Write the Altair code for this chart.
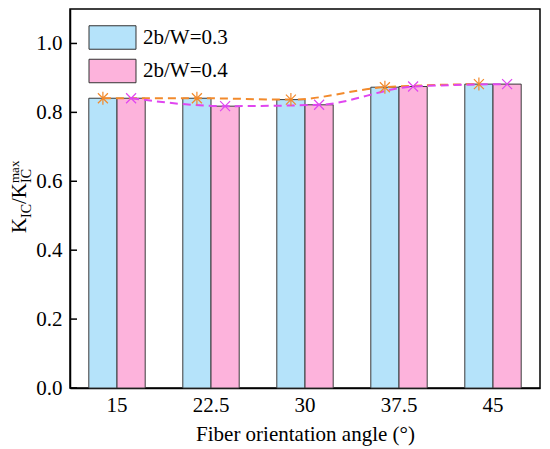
import altair as alt
import pandas as pd

angles = ["15", "22.5", "30", "37.5", "45"]
series = ["2b/W=0.3", "2b/W=0.4"]
w03 = [0.841, 0.841, 0.837, 0.873, 0.882]
w04 = [0.841, 0.818, 0.822, 0.875, 0.882]
y_ticks = [0.0, 0.2, 0.4, 0.6, 0.8, 1.0]

fill_colors = ["#B5E3FA", "#FDB3DC"]
line_colors = ["#F28A2C", "#E046F0"]
FONT = "'Liberation Serif', 'Times New Roman', serif"

rows = []
for a, v in zip(angles, w03):
    rows.append({"angle": a, "series": series[0], "value": v})
for a, v in zip(angles, w04):
    rows.append({"angle": a, "series": series[1], "value": v})
df = pd.DataFrame(rows)
df03 = pd.DataFrame({"angle": angles, "value": w03})
df04 = pd.DataFrame({"angle": angles, "value": w04})
tick_df = pd.DataFrame({"t": y_ticks})

xscale = alt.Scale(domain=angles, paddingInner=0.4, paddingOuter=0.2)
yscale = alt.Scale(domain=[0, 1.1], nice=False)

x_axis = alt.Axis(labelAngle=0, tickSize=0, labelPadding=6, labelFontSize=21,
                  labelFont=FONT, labelColor="black", title="Fiber orientation angle (°)",
                  titleFont=FONT, titleFontSize=21, titleFontWeight="normal",
                  titleColor="black", titlePadding=8, domainColor="black",
                  domainWidth=1.5)
y_axis = alt.Axis(values=y_ticks, format=".1f", tickSize=0, labelPadding=8,
                  labelFontSize=21, labelFont=FONT, labelColor="black",
                  title=None, grid=False, domainColor="black", domainWidth=1.5)

bars = alt.Chart(df).mark_bar(stroke="#3a3a3a", strokeWidth=1).encode(
    x=alt.X("angle:N", sort=angles, scale=xscale, axis=x_axis),
    xOffset=alt.XOffset("series:N", sort=series, scale=alt.Scale(paddingInner=0, paddingOuter=0)),
    y=alt.Y("value:Q", scale=yscale, axis=y_axis),
    color=alt.Color("series:N", sort=series,
                    scale=alt.Scale(domain=series, range=fill_colors),
                    legend=alt.Legend(
                        title=None, orient="none", legendX=30, legendY=16,
                        symbolType="M-2,-1H2V1H-2Z", symbolSize=552,
                        symbolStrokeColor="#333333", symbolStrokeWidth=1,
                        symbolOpacity=1, labelFont=FONT, labelFontSize=21,
                        labelColor="black", labelOffset=18, rowPadding=4.5,
                        padding=0)),
)

asterisk = "M-1,-1L1,1M-1,1L1,-1M0,-1.3L0,1.3"
xshape = "M-1,-1L1,1M-1,1L1,-1"

line03 = alt.Chart(df03).mark_line(
    color=line_colors[0], strokeDash=[8, 5], strokeWidth=2, interpolate="monotone"
).encode(x=alt.X("angle:N", sort=angles, bandPosition=0.25), y="value:Q")
line04 = alt.Chart(df04).mark_line(
    color=line_colors[1], strokeDash=[8, 5], strokeWidth=2, interpolate="monotone"
).encode(x=alt.X("angle:N", sort=angles, bandPosition=0.75), y="value:Q")
pt03 = alt.Chart(df03).mark_point(
    shape=asterisk, size=100, filled=False, color=line_colors[0], strokeWidth=1.2, opacity=1
).encode(x=alt.X("angle:N", sort=angles, bandPosition=0.25), y="value:Q")
pt04 = alt.Chart(df04).mark_point(
    shape=xshape, size=100, filled=False, color=line_colors[1], strokeWidth=1.2, opacity=1
).encode(x=alt.X("angle:N", sort=angles, bandPosition=0.75), y="value:Q")

ticks = alt.Chart(tick_df).mark_rule(color="black", strokeWidth=1.5).encode(
    y="t:Q", x=alt.value(0), x2=alt.value(7)
)

one = pd.DataFrame({"a": [0]})


def piece(text, size, x, y):
    return alt.Chart(one).mark_text(
        text=text, font=FONT, fontSize=size, angle=270, align="left",
        baseline="alphabetic", color="black"
    ).encode(x=alt.value(x), y=alt.value(y))


title_parts = [
    piece("K", 21, -44, 224),
    piece("IC", 14, -39, 209),
    piece("/K", 21, -44, 195),
    piece("IC", 14, -39, 174),
    piece("max", 13, -51, 174),
]

chart = alt.layer(bars, line03, line04, pt03, pt04, ticks, *title_parts).properties(
    width=470, height=379,
    autosize=alt.AutoSizeParams(type="none"),
    padding={"left": 62, "top": 1, "right": 2, "bottom": 60},
).configure(font=FONT).configure_view(stroke="black", strokeWidth=1.5)

chart.save("out.html", embed_options={"renderer": "svg", "actions": False})
